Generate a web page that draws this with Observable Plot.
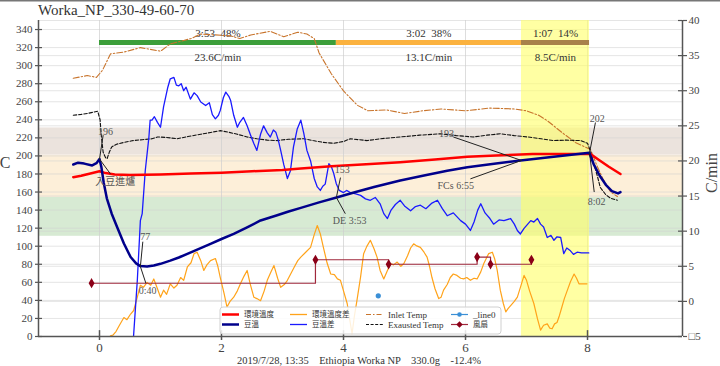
<!DOCTYPE html>
<html><head><meta charset="utf-8">
<script src="https://cdn.jsdelivr.net/npm/d3@7"></script>
<script src="https://cdn.jsdelivr.net/npm/@observablehq/plot@0.6"></script>
<style>
html,body{margin:0;padding:0;background:#fff;}
#chart{width:720px;height:366px;position:relative;overflow:hidden;}
svg text{white-space:pre;}
</style></head><body><div id="chart"></div>
<script>
// ---------- data ----------
const title = "Worka_NP_330-49-60-70";
const caption = "2019/7/28, 13:35    Ethiopia Worka NP    330.0g    -12.4%";

const xTicks = [0, 2, 4, 6, 8];
const leftTicks = [0,20,40,60,80,100,120,140,160,180,200,220,240,260,280,300,320,340];
const rightTicks = [-5,0,5,10,15,20,25,30,35,40];
const rightTickLabels = ["□5","0","5","10","15","20","25","30","35","40"];

// 環境溫度 (left axis)
const envT = [-0.43,-0.3,-0.15,0,0.1,0.25,0.5,1.0,1.5,2.0,2.5,3.0,3.3,3.8,4.3,4.93,5.5,6.03,6.5,7.1,7.6,8.05,8.2,8.35,8.54];
const envV = [176.5,178,180.5,183,181,179.5,179,179.5,180.5,181.5,183,184.5,186,188.5,190.5,193,196,199,200.5,202,202,202,195,188,180];

// 豆溫 (left axis)
const beanT = [-0.43,-0.35,-0.25,-0.12,-0.05,0,0.03,0.07,0.12,0.2,0.29,0.4,0.51,0.6,0.67,0.78,0.89,1.0,1.16,1.3,1.44,1.63,1.82,2.0,2.2,2.42,2.64,2.9,3.1,3.3,3.6,3.9,4.2,4.5,4.93,5.3,5.7,6.03,6.5,6.9,7.3,7.7,8.03,8.1,8.2,8.3,8.4,8.5,8.54];
const beanV = [190.5,192.5,191.5,189.5,192,196.5,188,170,153,136,121,103,88,81,78,77.5,78.6,80.5,84,87.5,91.6,97,102.7,108,113.7,121,128.5,134,138.5,142.5,148.5,154.3,160,165.5,172.8,178,183.5,187.5,191.5,195,198,201,203.5,191,178,168,161,158.5,160];

// 環境溫度差 (right axis, C/min)
const envRorT = [0.15,0.18,0.22,0.27,0.32,0.4,0.45,0.51,0.56,0.62,0.67,0.72,0.78,0.84,0.89,0.95,1.0,1.05,1.1,1.16,1.22,1.27,1.33,1.38,1.44,1.5,1.55,1.6,1.66,1.71,1.76,1.82,1.9,1.94,1.98,2.04,2.09,2.14,2.2,2.26,2.31,2.37,2.42,2.47,2.53,2.58,2.64,2.7,2.75,2.81,2.86,2.92,2.97,3.03,3.08,3.14,3.2,3.25,3.3,3.38,3.46,3.52,3.57,3.62,3.67,3.73,3.79,3.85,3.9,3.95,4.0,4.06,4.1,4.14,4.18,4.22,4.28,4.33,4.38,4.44,4.5,4.55,4.6,4.66,4.72,4.77,4.82,4.88,4.94,4.99,5.05,5.1,5.15,5.2,5.26,5.32,5.37,5.41,5.45,5.5,5.56,5.6,5.64,5.7,5.75,5.8,5.86,5.92,5.97,6.02,6.08,6.14,6.19,6.25,6.3,6.35,6.38,6.44,6.48,6.52,6.57,6.62,6.66,6.7,6.74,6.8,6.85,6.9,6.96,7.0,7.05,7.12,7.18,7.23,7.28,7.34,7.38,7.42,7.46,7.5,7.54,7.58,7.62,7.67,7.72,7.78,7.82,7.86,7.99];
const envRorV = [-5.5,-4.9,-4.8,-4.3,-3.5,-2.3,-2.6,-1.8,-1.3,0.6,2.3,2.0,2.7,2.3,3.2,1.8,0.6,1.6,1.0,2.5,1.9,2.3,3.4,3.0,4.9,5.5,6.8,7.0,5.8,4.4,5.2,5.8,6.1,5.0,3.4,1.2,-0.8,0.0,0.6,1.5,2.5,3.6,4.4,2.5,0.6,0.4,0.1,1.5,3.0,4.2,5.1,3.3,2.0,2.4,3.0,4.0,5.0,5.8,6.3,7.0,7.7,9.5,10.8,9.6,7.7,5.5,3.9,3.8,3.2,3.0,1.5,-0.3,-2.5,-4.6,-2.0,0.1,3.5,6.8,7.8,8.7,7.5,6.3,4.4,3.2,4.4,5.4,5.2,5.6,5.0,5.4,6.5,7.6,8.2,7.9,7.7,7.0,6.3,5.0,3.4,1.8,0.4,0.6,1.6,2.4,3.4,3.9,3.7,3.3,3.2,3.4,3.0,3.3,3.2,4.2,5.4,6.3,6.8,7.0,6.0,4.4,1.6,-0.3,-1.5,-1.0,-0.6,0.0,0.6,2.0,3.7,3.0,1.5,-0.3,-2.5,-4.1,-3.4,-3.2,-3.8,-3.9,-3.2,-3.0,-2.0,-0.8,0.4,1.6,2.8,3.9,3.3,2.5,2.5];

// 豆溫差 (right axis, C/min)
const beanRorT = [0.55,0.62,0.67,0.7,0.75,0.81,0.83,0.86,0.9,0.95,1.0,1.05,1.12,1.16,1.22,1.26,1.3,1.34,1.38,1.42,1.49,1.55,1.6,1.66,1.74,1.8,1.85,1.9,1.95,1.98,2.03,2.07,2.12,2.15,2.2,2.26,2.3,2.36,2.42,2.48,2.53,2.58,2.64,2.69,2.75,2.8,2.85,2.89,2.93,2.97,3.02,3.08,3.13,3.18,3.24,3.3,3.35,3.4,3.46,3.52,3.57,3.62,3.66,3.7,3.76,3.8,3.84,3.88,3.93,4.0,4.05,4.11,4.2,4.28,4.36,4.44,4.52,4.6,4.66,4.72,4.78,4.85,4.93,5.0,5.1,5.18,5.26,5.35,5.45,5.54,5.62,5.7,5.8,5.92,6.0,6.08,6.14,6.2,6.25,6.32,6.4,6.46,6.55,6.63,6.74,6.8,6.85,6.9,6.96,7.02,7.07,7.12,7.18,7.23,7.28,7.34,7.4,7.45,7.5,7.56,7.61,7.66,7.72,7.77,7.83,7.9,8.02];
const beanRorV = [-6,3,11.5,12.5,18.6,23.4,25.8,25.8,26.3,25.5,24.8,27.7,30.5,31.7,31.9,30.8,30.7,31,30,30.5,28.8,29.7,29.3,28.4,27.9,28.3,26.6,26,26.5,27.2,29,29.8,29.2,28.6,26.5,24.8,25.5,26.2,25,23.6,22.5,21.5,23.8,25,24,23.4,24.4,24.1,23,21.5,19.5,17.5,18.6,22,24.5,25.8,23.9,21.5,20,17.5,16.3,15.8,16.4,16.7,19.6,19.2,18.2,16.8,15.8,15.5,15.8,15.5,15.3,15.1,14.6,14.4,14.8,13.9,12.5,11.8,13,13.8,14.4,13.6,12.9,13.5,13.7,13.2,14,14.4,13.2,12.2,12.6,11.5,11,10.1,11.3,13,13.9,12.6,11.8,11,11.6,11.5,11.8,11,10.1,9.6,10.4,11,11.5,11.3,11.8,11,10.6,9.1,9.4,8.7,9.2,9.1,6.8,7.6,7.2,6.7,7,6.9,6.9];

// Inlet Temp (left axis)
const inletT = [-0.43,-0.2,-0.05,0.05,0.18,0.4,0.67,1.0,1.16,1.5,1.66,2.15,2.3,2.48,2.8,3.02,3.25,3.4,3.52,3.6,3.8,4.0,4.23,4.4,4.7,5.0,5.3,5.6,6.0,6.4,6.8,7.0,7.2,7.34,7.6,7.8,8.05,8.15,8.25,8.38,8.49];
const inletV = [286,289,287,295,313,315,320,316,324,330,335,333,330,334,338,332,337,335,330,314,291,272,256,250,251,247,250,252,250,253,252,250,245,239,225,215,207,190,175,160,155];

// Exausted Temp (left axis)
const exhT = [-0.43,-0.3,-0.2,-0.1,-0.03,0.01,0.03,0.06,0.1,0.125,0.16,0.2,0.28,0.4,0.55,0.7,0.86,0.95,1.1,1.27,1.45,1.66,1.82,1.98,2.1,2.26,2.42,2.58,2.75,2.91,3.1,3.35,3.5,3.67,3.84,4.0,4.11,4.25,4.39,4.6,4.93,5.25,5.59,5.85,6.13,6.35,6.57,6.8,7.02,7.24,7.44,7.65,7.89,8.0,8.05,8.1,8.16,8.21,8.3,8.38,8.49];
const exhV = [245,246,247,248.5,249.5,240,222,204,198,197,204,210,213,215,217,218,219,221,220.5,219,221.5,224,226,228,226.5,224,221,219,217.5,217,218.5,219,217,215,214,216,219,218,217,219,221,223,224.5,222.5,221,223,224.5,222.5,221,219,217,217.5,217,214,205,192,178,165,157,153,151];

// 風扇 (left axis, step)
const fanT = [-0.13,3.54,4.74,6.19,6.41,7.08];
const fanV = [59,85,80,88,80,85];

// _line0
const line0T = [4.57];
const line0V = [45];

// roast phases
const phaseStart = [0, 3.883, 6.917];
const phaseEnd = [3.883, 6.917, 8.033];
const phaseTime = ["3:53  48%", "3:02  38%", "1:07  14%"];
const phaseRate = ["23.6C/min", "13.1C/min", "8.5C/min"];

// background bands (left axis)
const bandLow = [111, 154, 201];
const bandHigh = [154, 201, 231];

// annotations
const annoText = ["196","入豆進爐","77","0:40","153","DE 3:53","193","FCs 6:55","202","8:02"];
const annoAT = [0,0,0.67,0.67,3.883,3.883,6.917,6.917,8.033,8.033];
const annoAV = [196.5,196.5,77.5,77.5,154,154,195,195,203.5,203.5];
const annoET = [0.06,0.18,0.71,0.76,3.95,4.03,5.8,6.08,8.13,8.11];
const annoEV = [223,180,105,59,176,136,221,174.6,237,160];
const annoTT = [0.1,0.26,0.75,0.79,3.98,4.1,5.69,5.84,8.16,8.15];
const annoTV = [227,171,110,51,185,128.5,225,167,241,148.7];

// ---------- build ----------
const R = r => (r + 5) * 350 / 45;      // right axis -> left units
const xMin = -1, xMax = 9.557;
const zip = (T, V, f = v => v) => T.map((t, i) => ({t, v: f(V[i])}));

const env = zip(envT, envV), bean = zip(beanT, beanV);
const envRor = zip(envRorT, envRorV, R), beanRor = zip(beanRorT, beanRorV, R);
const inlet = zip(inletT, inletV), exh = zip(exhT, exhV);
const fan = zip(fanT, fanV), line0 = zip(line0T, line0V);
const phases = phaseStart.map((s, i) => ({s, e: phaseEnd[i], time: phaseTime[i], rate: phaseRate[i], c: ["#3c9e3a", "#fbb23f", "#a8814a"][i]}));
const bands = bandLow.map((l, i) => ({l, h: bandHigh[i], c: ["#d7ead3", "#fdefd9", "#ebe3dd"][i]}));
const annos = annoText.map((s, i) => ({s, at: annoAT[i], av: annoAV[i], et: annoET[i], ev: annoEV[i], tt: annoTT[i], tv: annoTV[i]}));
const rightMap = new Map(rightTicks.map((r, i) => [R(r), rightTickLabels[i]]));

const FONT = "'Liberation Serif','Noto Sans CJK TC',serif";
const axisCol = "#555";

const chart = Plot.plot({
  width: 720, height: 366,
  marginLeft: 38, marginRight: 38, marginTop: 20, marginBottom: 30,
  x: {domain: [xMin, xMax], label: null},
  y: {domain: [0, 350], label: null},
  style: {fontFamily: FONT, fontSize: "11px", background: "white", color: "#444"},
  marks: [
    Plot.rect(bands, {x1: xMin, x2: xMax, y1: "l", y2: "h", fill: "c"}),
    Plot.gridX(xTicks, {stroke: "#cfcfcf", strokeOpacity: 0.7}),
    Plot.gridY(leftTicks, {stroke: "#cfcfcf", strokeOpacity: 0.55}),
    Plot.gridY(rightTicks.map(R), {stroke: "#cfcfcf", strokeOpacity: 0.55}),
    Plot.rect([{a: 6.917, b: 8.033}], {x1: "a", x2: "b", y1: 0, y2: 350, fill: "#ffff6a", fillOpacity: 0.62}),
    // phase bars
    Plot.ruleY(phases, {x1: "s", x2: "e", y: 325.6, stroke: "c", strokeWidth: 5}),
    Plot.text(phases, {x: d => (d.s + d.e) / 2, y: 335.6, text: "time", fontSize: 11, fill: "#333"}),
    Plot.text(phases, {x: d => (d.s + d.e) / 2, y: 309, text: "rate", fontSize: 11, fill: "#333"}),
    // lines
    Plot.line(inlet, {x: "t", y: "v", stroke: "#c8742c", strokeWidth: 1.1, strokeDasharray: "6,2,1.5,2", clip: true}),
    Plot.line(exh, {x: "t", y: "v", stroke: "#111", strokeWidth: 1.1, strokeDasharray: "3.5,1.8", clip: true}),
    Plot.line(envRor, {x: "t", y: "v", stroke: "#ffa31a", strokeWidth: 1.2, clip: true}),
    Plot.line(beanRor, {x: "t", y: "v", stroke: "#1a1aff", strokeWidth: 1.3, clip: true}),
    Plot.line(env, {x: "t", y: "v", stroke: "#ff0000", strokeWidth: 2.5, clip: true}),
    Plot.line(bean, {x: "t", y: "v", stroke: "#00008b", strokeWidth: 2.5, clip: true}),
    Plot.line(fan, {x: "t", y: "v", stroke: "#a0283c", strokeWidth: 1.2, curve: "step-after"}),
    Plot.dot(fan, {x: "t", y: "v", symbol: "diamond", r: 2.2, fill: "#8b0018", stroke: "#8b0018"}),
    Plot.dot(line0, {x: "t", y: "v", r: 2.6, fill: "#3a8fd6"}),
    // annotations
    Plot.link(annos, {x1: "at", y1: "av", x2: "et", y2: "ev", stroke: "#222", strokeWidth: 1}),
    Plot.text(annos, {x: "tt", y: "tv", text: "s", fontSize: 10, fill: "#555"}),
    // spines & ticks
    Plot.ruleX([xMin, xMax], {stroke: axisCol, strokeWidth: 1.5}),
    Plot.ruleY([0], {x1: xMin, x2: xMax, stroke: axisCol, strokeWidth: 1.5}),
    Plot.ruleY(leftTicks, {x1: xMin, x2: xMin + 4 / 61, stroke: axisCol, strokeWidth: 1.2}),
    Plot.ruleY(rightTicks.map(R), {x1: xMax - 4 / 61, x2: xMax, stroke: axisCol, strokeWidth: 1.2}),
    Plot.ruleX(xTicks, {y1: 0, y2: 6.5, stroke: axisCol, strokeWidth: 1.5}),
    Plot.axisY(leftTicks, {anchor: "left", tickSize: 3, tickPadding: 3, fontSize: 11, color: "#444", stroke: axisCol, strokeWidth: 1.2, tickFormat: d => String(d)}),
    Plot.axisY(rightTicks.map(R), {anchor: "right", tickSize: 4, tickPadding: 2, fontSize: 11, color: "#444", stroke: axisCol, strokeWidth: 1.2, tickFormat: d => rightMap.get(d)}),
    Plot.axisX(xTicks, {tickSize: 4, tickPadding: 2, fontSize: 13, color: "#444", stroke: axisCol, strokeWidth: 1.5, tickFormat: d => String(d)})
  ]
});
document.getElementById("chart").appendChild(chart);

// ---------- titles, labels, legend ----------
const svg = d3.select(chart);
const addText = (x, y, s, size, anchor, extra = {}) => {
  const t = svg.append("text").attr("x", x).attr("y", y).attr("text-anchor", anchor)
    .attr("font-size", size).attr("fill", extra.fill || "#333").attr("font-family", FONT)
    .attr("xml:space", "preserve").style("white-space", "pre").text(s);
  if (extra.transform) t.attr("transform", extra.transform).attr("x", 0).attr("y", 0);
  if (extra.dy) t.attr("dy", extra.dy);
  return t;
};
svg.append("line").attr("x1", 0).attr("x2", 720).attr("y1", 0.75).attr("y2", 0.75).attr("stroke", "#777").attr("stroke-width", 1.5);
addText(38, 15, title, 15, "start");
addText(359, 364, caption, 10.5, "middle");
addText(5, 168, "C", 16, "middle", {fill: "#444"});
addText(0, 0, "C/min", 16, "middle", {fill: "#444", transform: "translate(711,173) rotate(-90)", dy: "0.35em"});

const legendItems = [
  {label: "環境溫度", color: "#ff0000", w: 2.5, col: 0, row: 0, cjk: true},
  {label: "豆溫", color: "#00008b", w: 2.5, col: 0, row: 1, cjk: true},
  {label: "環境溫度差", color: "#ffa31a", w: 1.3, col: 1, row: 0, cjk: true},
  {label: "豆溫差", color: "#1a1aff", w: 1.3, col: 1, row: 1, cjk: true},
  {label: "Inlet Temp", color: "#c8742c", w: 1.2, dash: "5,2,1.5,2", col: 2, row: 0},
  {label: "Exausted Temp", color: "#111", w: 1.2, dash: "3,1.6", col: 2, row: 1},
  {label: "_line0", color: "#3a8fd6", w: 1.2, marker: "circle", col: 3, row: 0},
  {label: "風扇", color: "#a0283c", w: 1.2, marker: "diamond", col: 3, row: 1, cjk: true}
];
const colX = [222, 290, 366, 451], rowY = [314.5, 324.5];
const lg = svg.append("g");
lg.append("rect").attr("x", 220).attr("y", 307).attr("width", 281).attr("height", 27).attr("rx", 3)
  .attr("fill", "white").attr("fill-opacity", 0.85).attr("stroke", "#d0d0d0");
legendItems.forEach(it => {
  const x = colX[it.col], y = rowY[it.row];
  lg.append("line").attr("x1", x).attr("x2", x + 17).attr("y1", y).attr("y2", y)
    .attr("stroke", it.color).attr("stroke-width", it.w).attr("stroke-dasharray", it.dash || null);
  if (it.marker === "circle") lg.append("circle").attr("cx", x + 8.5).attr("cy", y).attr("r", 2.3).attr("fill", it.color);
  if (it.marker === "diamond") lg.append("path").attr("d", `M${x + 8.5},${y - 3.2}L${x + 11.7},${y}L${x + 8.5},${y + 3.2}L${x + 5.3},${y}Z`).attr("fill", "#8b0018");
  lg.append("text").attr("x", x + 22).attr("y", y).attr("dy", "0.35em").attr("text-anchor", "start")
    .attr("font-size", it.cjk ? 7.5 : 9).attr("fill", "#333").attr("font-family", FONT).text(it.label);
});
</script></body></html>
